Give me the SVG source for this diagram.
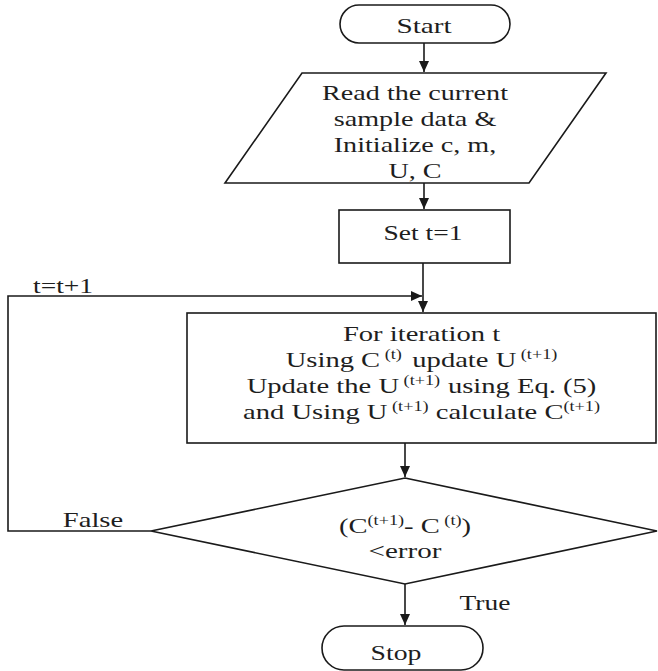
<svg xmlns="http://www.w3.org/2000/svg" width="658" height="671" viewBox="0 0 658 671">
<defs>
<style>
.s{fill:none;stroke:#1a1a1a;stroke-width:1.6}
.b{fill:#fff;stroke:#1a1a1a;stroke-width:1.6}
text{font-family:"Liberation Serif","Times New Roman",serif;font-size:22px;fill:#1e1e1e;text-anchor:middle}
.sup{font-size:14px}
</style>
<marker id="ah" markerUnits="userSpaceOnUse" markerWidth="12" markerHeight="10" refX="11" refY="5" orient="auto">
<path d="M0,0 L11,5 L0,10 z" fill="#1a1a1a"/>
</marker>
</defs>
<rect width="658" height="671" fill="#fff"/>
<g id="connectors">
<line class="s" x1="424" y1="43" x2="424" y2="72" marker-end="url(#ah)"/>
<line class="s" x1="424" y1="183" x2="424" y2="209" marker-end="url(#ah)"/>
<line class="s" x1="423" y1="263" x2="423" y2="312" marker-end="url(#ah)"/>
<polyline class="s" points="151,531 8,531 8,296 422,296" marker-end="url(#ah)"/>
<line class="s" x1="405" y1="443" x2="405" y2="477" marker-end="url(#ah)"/>
<line class="s" x1="405" y1="584" x2="405" y2="625" marker-end="url(#ah)"/>
<text transform="translate(63,293) scale(1.25,1)">t=t+1</text>
<text transform="translate(93,527) scale(1.3,1)">False</text>
<text transform="translate(485,610) scale(1.25,1)">True</text>
</g>
<g id="start">
<rect class="b" x="340" y="5" width="170" height="38" rx="19"/>
<text transform="translate(424,33) scale(1.33,1)" font-size="21">Start</text>
</g>
<g id="read">
<polygon class="b" points="302,73 606,73 529,183 225,183"/>
<text transform="translate(415,100) scale(1.28,1)">Read the current</text>
<text transform="translate(415,126) scale(1.28,1)">sample data &amp;</text>
<text transform="translate(415,152) scale(1.28,1)">Initialize c, m,</text>
<text transform="translate(415,178) scale(1.28,1)">U, C</text>
</g>
<g id="set">
<rect class="b" x="339" y="210" width="171" height="53"/>
<text transform="translate(423,240) scale(1.25,1)">Set t=1</text>
</g>
<g id="iterate">
<rect class="b" x="187" y="313" width="469" height="130"/>
<text transform="translate(421.5,341) scale(1.3,1)">For iteration t</text>
<text transform="translate(421.5,367) scale(1.3,1)">Using C<tspan class="sup" dy="-8"> (t)</tspan><tspan dy="8" dx="8">update U</tspan><tspan class="sup" dy="-8"> (t+1)</tspan></text>
<text transform="translate(421.5,393) scale(1.3,1)">Update the U<tspan class="sup" dy="-8"> (t+1)</tspan><tspan dy="8" dx="6">using Eq. (5)</tspan></text>
<text transform="translate(421.5,419) scale(1.3,1)">and Using U<tspan class="sup" dy="-8"> (t+1)</tspan><tspan dy="8"> calculate C</tspan><tspan class="sup" dy="-8">(t+1)</tspan></text>
</g>
<g id="decision">
<polygon class="b" points="405,478 657,531 405,584 151,531"/>
<text transform="translate(405,533) scale(1.3,1)">(C<tspan class="sup" dy="-8">(t+1)</tspan><tspan dy="8">- C</tspan><tspan class="sup" dy="-8"> (t)</tspan><tspan dy="8">)</tspan></text>
<text transform="translate(405,558) scale(1.32,1)">&lt;error</text>
</g>
<g id="stop">
<rect class="b" x="322" y="626" width="161" height="44" rx="22"/>
<text transform="translate(396,660) scale(1.26,1)">Stop</text>
</g>
</svg>
